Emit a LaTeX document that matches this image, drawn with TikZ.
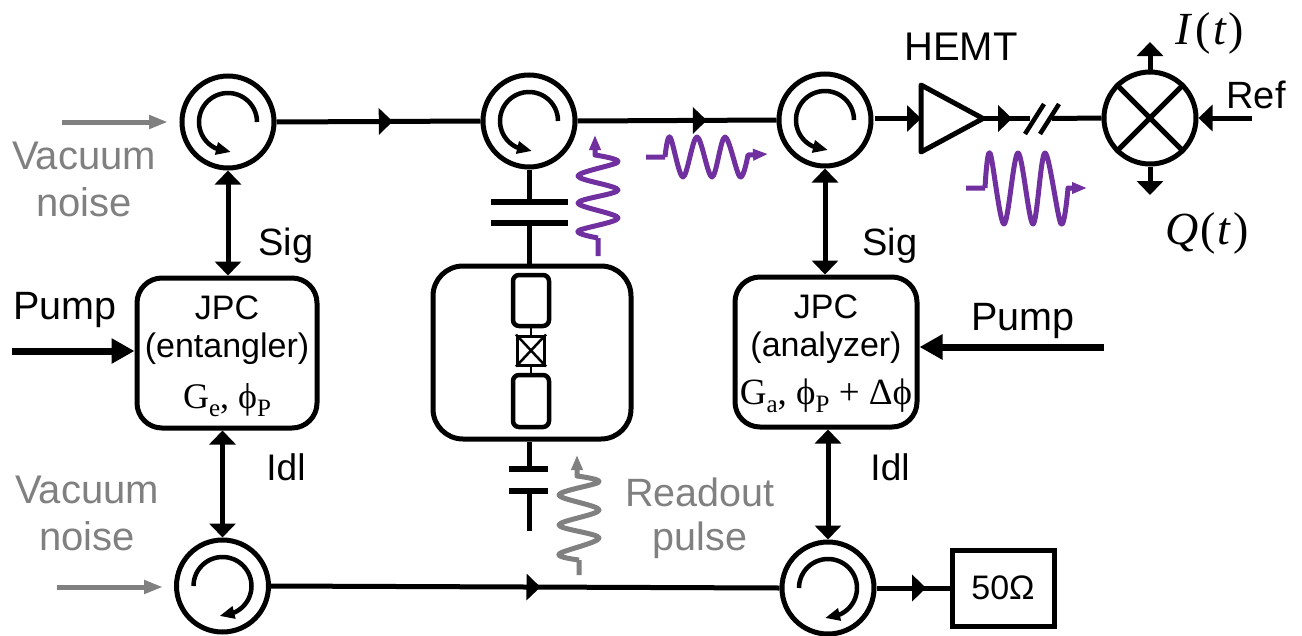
\documentclass[tikz,border=0pt]{standalone}
\usepackage{fontspec}
\setmainfont{Liberation Sans}
\newfontfamily\parfont{Liberation Serif}
\usetikzlibrary{arrows.meta,decorations.markings}
\definecolor{wavepurple}{HTML}{7030A0}
\definecolor{midgray}{HTML}{808080}
\newcommand{\fsz}[1]{\fontsize{#1}{#1}\selectfont}
\newcommand{\subtxt}[1]{\raisebox{-0.22em}{\fsz{25}#1}}
\tikzset{
  circ/.style={circle,draw,line width=5pt,minimum size=92pt,inner sep=0pt},
  wire/.style={line width=5pt},
  twoway/.style={wire,{Triangle[width=26pt,length=14pt]}-{Triangle[width=26pt,length=14pt]}},
  oneway/.style={wire,-{Triangle[width=26pt,length=14pt]}},
  midarrow/.style={wire,postaction={decorate},decoration={markings,mark=at position #1 with {\arrow{Triangle[width=26pt,length=14pt]}}}},
  jpc/.style={draw,line width=5pt,rounded corners=25pt,inner sep=0pt},
  pumparrow/.style={line width=7pt,-{Triangle[width=24pt,length=23pt]}},
  noisearrow/.style={draw=midgray,line width=5pt,-{Triangle[width=13pt,length=19pt,fill=midgray]}},
  lab/.style={font=\fsz{38}},
  graylab/.style={font=\fsz{40},text=midgray},
  jpctext/.style={font=\fsz{34}},
  wavepurp/.style={line width=5pt,line join=round,draw=wavepurple,-{Triangle[width=11pt,length=15pt,fill=wavepurple]}},
  wavegray/.style={line width=5pt,line join=round,draw=midgray,-{Triangle[width=11pt,length=15pt,fill=midgray]}},
  innerarc/.style={line width=4.5pt,-{Triangle[width=12pt,length=15pt]}},
}
\newcommand{\cwarc}[2]{%
  \draw[innerarc] plot[domain=0:-245,samples=50,smooth] ({#1+29*cos(\x)},{#2+29*sin(\x)}) -- ({#1+3},{#2+30});}
\newcommand{\ccarc}[2]{%
  \draw[innerarc] plot[domain=180:425,samples=50,smooth] ({#1+29*cos(\x)},{#2+29*sin(\x)}) -- ({#1-3},{#2+30});}
\begin{document}
\begin{tikzpicture}[x=1pt,y=-1pt]
\useasboundingbox (0,0) rectangle (1302,635);
% circulators
\node[circ] (c1) at (228,122) {};
\node[circ] (c2) at (529,121) {};
\node[circ] (c3) at (825,120) {};
\node[circ] (c4) at (222.5,586) {};
\node[circ] (c5) at (828,588) {};
\cwarc{228}{122}
\cwarc{529}{121}
\cwarc{825}{120}
\ccarc{222.5}{586}
\ccarc{828}{588}
% JPC boxes
\node[jpc,minimum width=180pt,minimum height=150pt] (j1) at (227,353) {};
\node[jpc,minimum width=182pt,minimum height=150pt] (j2) at (826,352) {};
\node[jpctext] (j1a) at (227,308) {JPC};
\node[jpctext] (j1b) at (227,349) {(entangler)};
\node[font=\parfont\fsz{36}] (j1c) at (227,400) {G\subtxt{e}, ϕ\subtxt{P}};
\node[jpctext] (j2a) at (826,307) {JPC};
\node[jpctext] (j2b) at (826,348) {(analyzer)};
\node[font=\parfont\fsz{37}] (j2c) at (826,396) {G\subtxt{a}, ϕ\subtxt{P} + Δϕ};
% couplings
\draw[twoway] (c1.south) -- (c1.south |- j1.north);
\draw[twoway] (c3.south) -- (c3.south |- j2.north);
\draw[twoway] (c4.north) -- (c4.north |- j1.south);
\draw[twoway] (c5.north) -- (c5.north |- j2.south);
% main lines
\draw[midarrow=0.57] (c1.east) -- (c2.west);
\draw[midarrow=0.65] (c2.east) -- (c3.west);
\draw[midarrow=0.53] (c4.east) -- (c5.west);
% amp and mixer
\coordinate (ampL) at (921,118.5);
\coordinate (ampT) at (983,118.5);
\draw[line width=5pt,line join=round] (921,85) -- (ampT) -- (921,152) -- cycle;
\node[circ] (mx) at (1150,118) {};
\draw[line width=5pt] (mx.45) -- (mx.225) (mx.135) -- (mx.315);
\coordinate (o3) at (875,118.5);
\draw[oneway] (o3) -- (ampL);
\coordinate (s1) at (1030,118.5);
\coordinate (s2) at (1052,118.5);
\draw[midarrow=0.62] (ampT) -- (s1);
\draw[wire] (s2) -- (mx.west);
\draw[line width=4.5pt] (1025,134) -- (1044,104);
\draw[line width=4.5pt] (1040,134) -- (1059,104);
\coordinate (refin) at (1252,118);
\draw[oneway] (refin) -- (mx.east);
\coordinate (iout) at (1150,42);
\coordinate (qout) at (1150,195);
\draw[oneway] (mx.north) -- (iout);
\draw[oneway] (mx.south) -- (qout);
% terminator
\node[draw,line width=5pt,minimum width=102pt,minimum height=76pt,inner sep=0pt,font=\fsz{34}] (t50) at (1003,588) {50Ω};
\draw[midarrow=0.68] (c5.east) -- (t50.west);
% qubit
\node[draw,line width=5pt,rounded corners=30pt,minimum width=198pt,minimum height=173pt] (qb) at (532,352.5) {};
\node[draw,line width=4.5pt,rounded corners=6pt,minimum width=36pt,minimum height=51pt,inner sep=0pt] (p1) at (531,300.5) {};
\node[draw,line width=4.5pt,rounded corners=6pt,minimum width=36pt,minimum height=52pt,inner sep=0pt] (p2) at (531,401) {};
\node[draw,line width=3pt,minimum width=27pt,minimum height=29pt,inner sep=0pt] (jj) at (531,350.5) {};
\draw[line width=2.5pt] (jj.north west) -- (jj.south east) (jj.north east) -- (jj.south west);
\draw[line width=2.5pt] (p1.south) -- (jj.north) (jj.south) -- (p2.north);
% capacitors
\coordinate (k1) at (529,202);
\coordinate (k2) at (529,223);
\coordinate (k3) at (529,469);
\coordinate (k4) at (529,491);
\coordinate (k5) at (529,531);
\draw[wire] (c2.south) -- (k1);
\draw[wire] (k2) -- (k2 |- qb.north);
\draw[line width=5.5pt] (491,202) -- (568,202) (491,223) -- (568,223);
\draw[wire] (k3 |- qb.south) -- (k3);
\draw[wire] (k4) -- (k5);
\draw[line width=5.5pt] (509,469) -- (548,469) (509,491) -- (548,491);
% noise and pump inputs
\coordinate (n1) at (62,122);
\coordinate (n1e) at (168,122);
\coordinate (n2) at (57,587);
\coordinate (n2e) at (163,587);
\draw[noisearrow] (n1) -- (n1e);
\draw[noisearrow] (n2) -- (n2e);
\coordinate (pl) at (12,351);
\coordinate (pr) at (1104,347);
\draw[pumparrow] (pl) -- (pl -| j1.west);
\draw[pumparrow] (pr) -- (pr -| j2.east);
% waves
\draw[wavepurp] (598,256) -- (598,238)
  plot[smooth,tension=.55] coordinates {(598,238) (578,231) (618,218) (578,203) (618,190) (578,176) (618,162) (595,155)} -- (595,135);
\draw[wavegray] (579,575) -- (579,560)
  plot[smooth,tension=.55] coordinates {(579,560) (559,554) (599,538) (559,525) (599,510) (559,495) (599,482) (577,476)} -- (577,455);
\draw[wavepurp] (646,157) -- (665,157)
  plot[smooth,tension=.55] coordinates {(665,157) (670,137) (683,177) (697,137) (712,177) (725,137) (740,177) (748,155)} -- (768,154);
\draw[wavepurp] (966,188) -- (985,188)
  plot[smooth,tension=.55] coordinates {(985,188) (990,153) (1004,224) (1018,153) (1033,224) (1045,153) (1061,224) (1068,188)} -- (1087,188);
% labels
\node[graylab] (v1) at (84,156) {Vacuum};
\node[graylab] (v2) at (84,202) {noise};
\node[graylab] (v3) at (87,490) {Vacuum};
\node[graylab] (v4) at (87,536) {noise};
\node[font=\fsz{39.5},text=midgray] (r1) at (700,492) {Readout};
\node[font=\fsz{39.5},text=midgray] (r2) at (700,540) {pulse};
\node[lab] (sig1) at (286,246) {Sig};
\node[lab] (sig2) at (890,246) {Sig};
\node[font=\fsz{37}] (idl1) at (286,467) {Idl};
\node[font=\fsz{37}] (idl2) at (890,467) {Idl};
\node[font=\fsz{39.5}] (pu1) at (65,310) {Pump};
\node[font=\fsz{39.5}] (pu2) at (1023,321) {Pump};
\node[font=\fsz{40}] (he) at (961,47) {HEMT};
\node[font=\fsz{38}] (ref) at (1256,95) {Ref};
\node[font=\parfont\fsz{46}] (it) at (1210,33) {\textit{I}\kern3pt(\kern2pt\textit{t}\kern2pt)};
\node[font=\parfont\fsz{46}] (qt) at (1207,233) {\textit{Q}\kern2pt(\kern2pt\textit{t}\kern2pt)};
\end{tikzpicture}
\end{document}
